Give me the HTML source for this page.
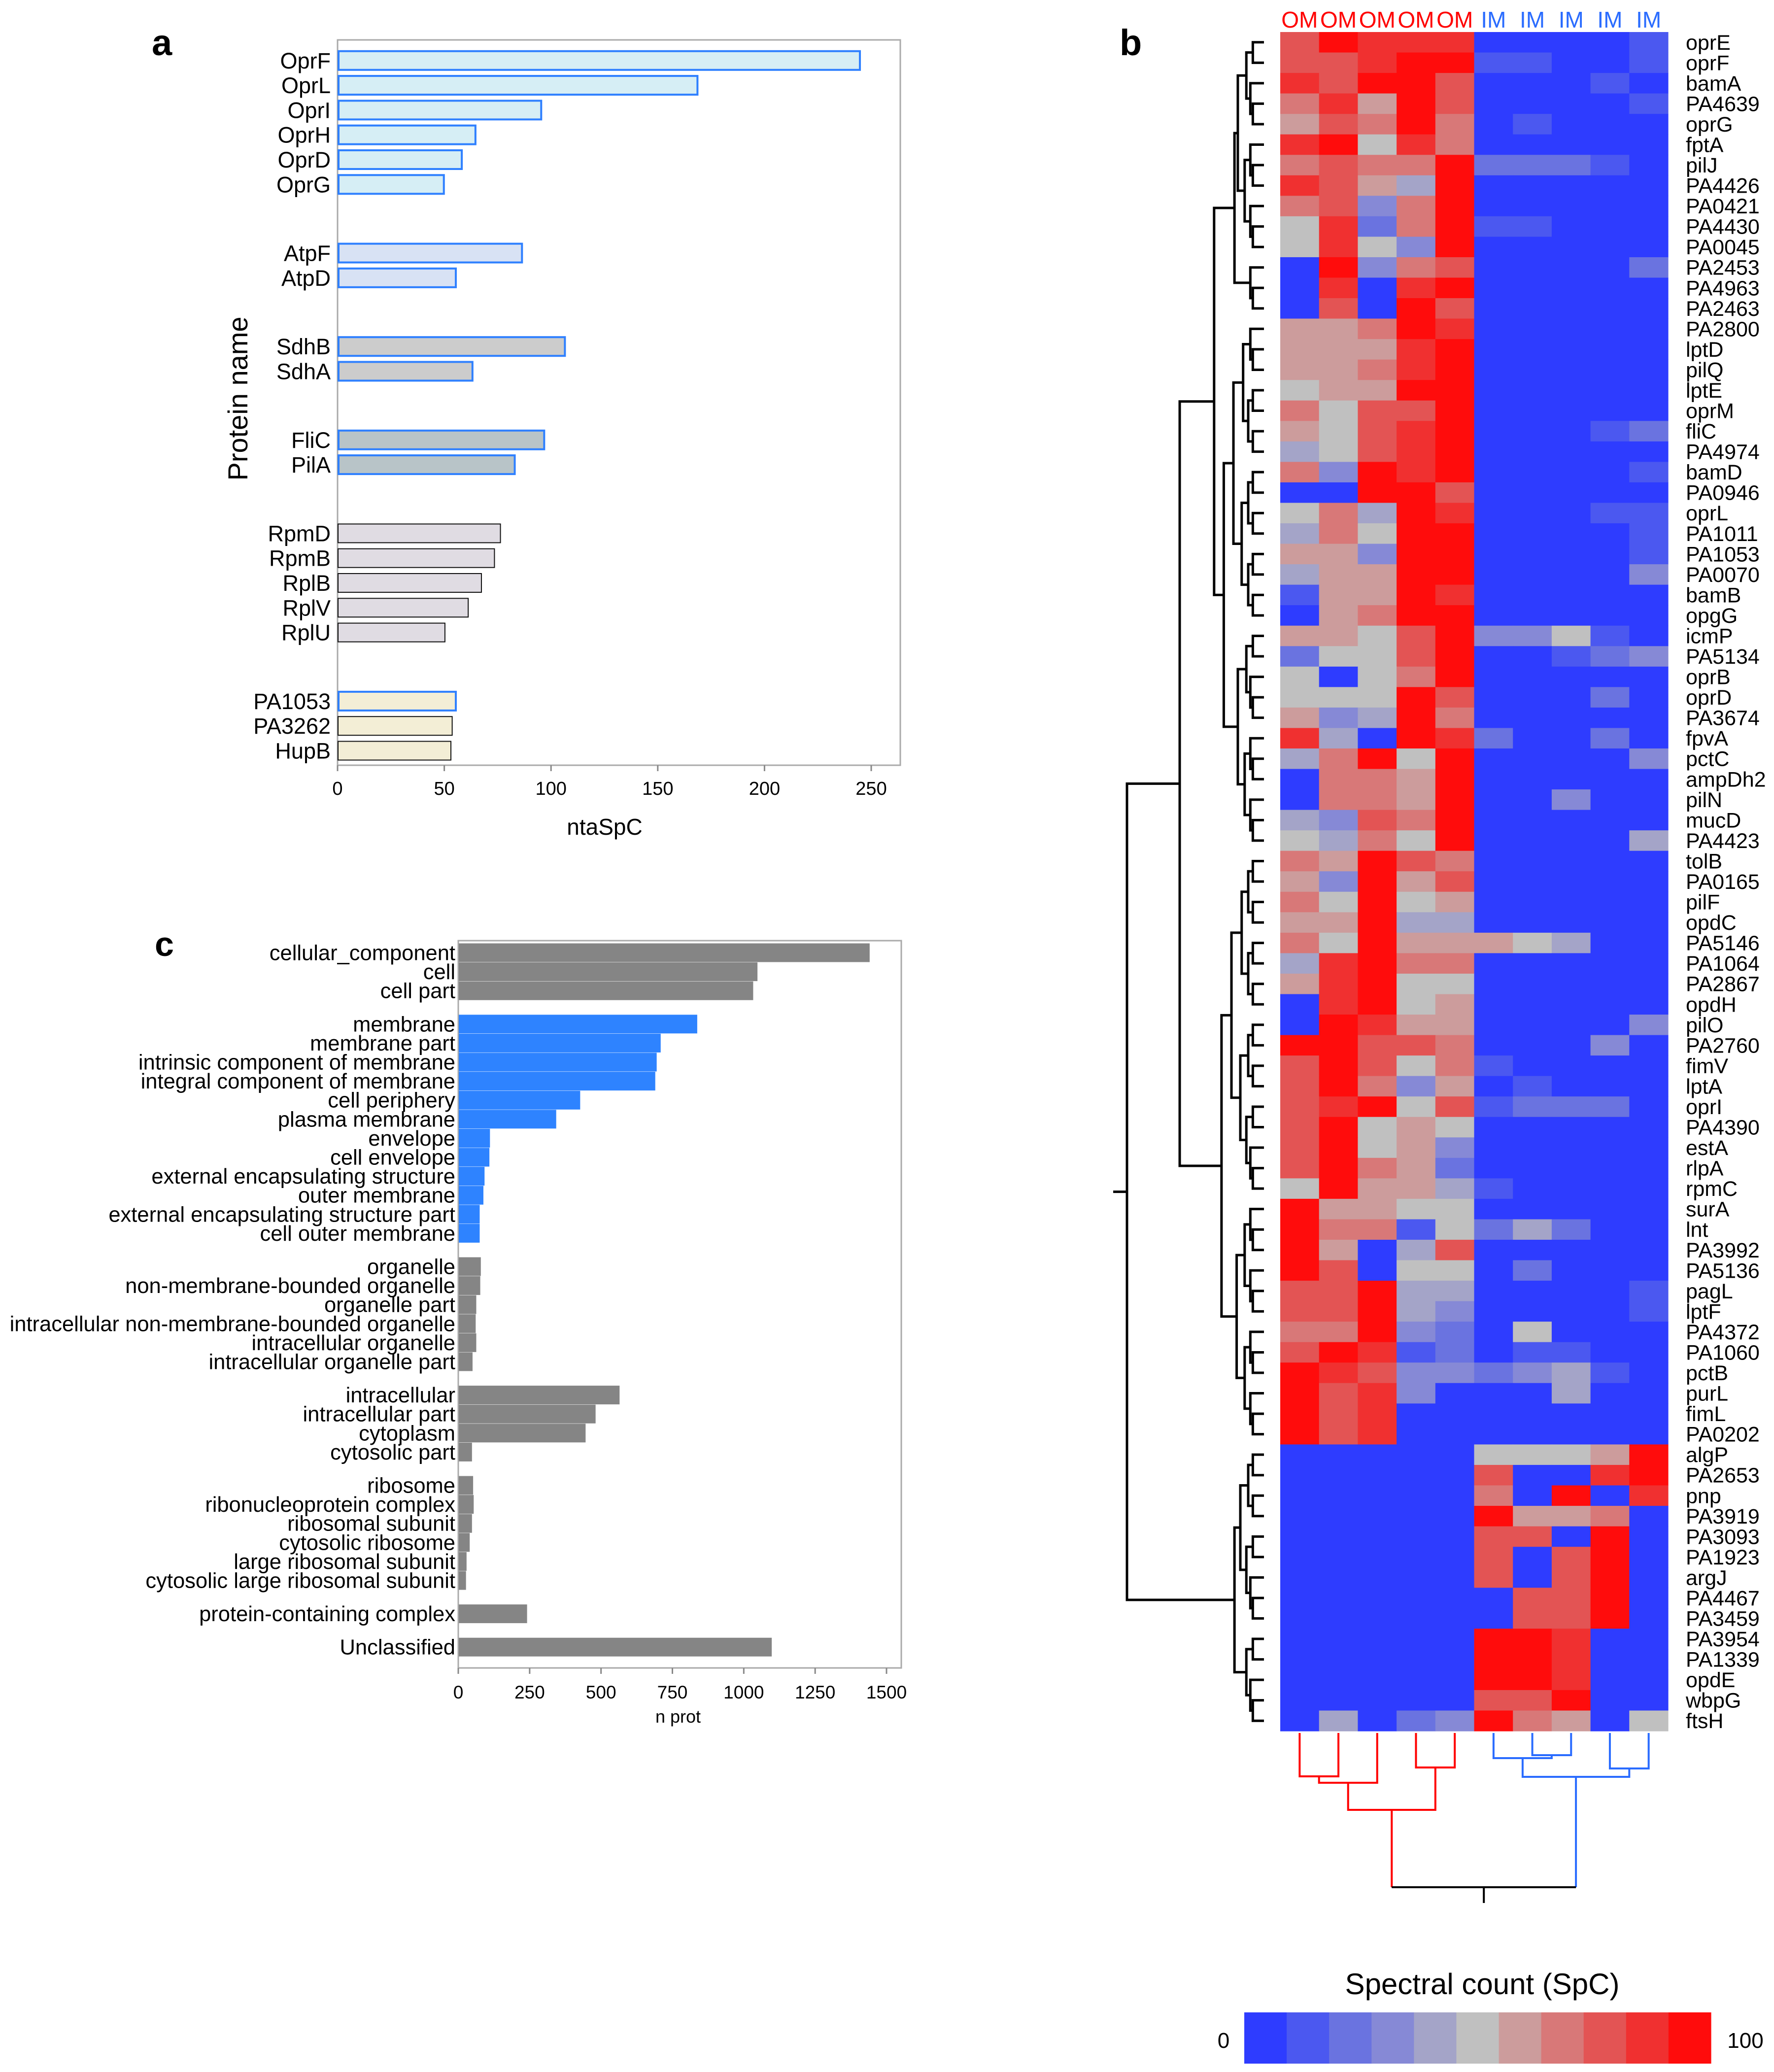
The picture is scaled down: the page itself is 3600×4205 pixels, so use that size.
<!DOCTYPE html>
<html><head><meta charset="utf-8"><style>
html,body{margin:0;padding:0;background:#fff}
svg{display:block}
text{font-family:"Liberation Sans",Arial,sans-serif}
</style></head><body>
<svg id="fig" width="3600" height="4205" viewBox="0 0 3600 4205" xmlns="http://www.w3.org/2000/svg">
<g id="pa"></g>
<g id="pc"></g>
<g id="pb"></g>
</svg>
<script>
// ---------- Panel a data ----------
const aNames = ["OprF","OprL","OprI","OprH","OprD","OprG","AtpF","AtpD","SdhB","SdhA","FliC","PilA","RpmD","RpmB","RplB","RplV","RplU","PA1053","PA3262","HupB"];
const aValues = [244.7,168.6,95.4,64.6,58.2,49.8,86.4,55.4,106.5,63.2,96.8,83,76.3,73.5,67.4,61.2,50.3,55.4,53.7,53.1];
const aGroup = [0,0,0,0,0,0,1,1,2,2,3,3,4,4,4,4,4,5,5,5];
const aBlueEdge = [1,1,1,1,1,1,1,1,1,1,1,1,0,0,0,0,0,1,0,0];
const aTicks = [0,50,100,150,200,250];
// ---------- Panel c data ----------
const cNames = ["cellular_component","cell","cell part","membrane","membrane part","intrinsic component of membrane","integral component of membrane","cell periphery","plasma membrane","envelope","cell envelope","external encapsulating structure","outer membrane","external encapsulating structure part","cell outer membrane","organelle","non-membrane-bounded organelle","organelle part","intracellular non-membrane-bounded organelle","intracellular organelle","intracellular organelle part","intracellular","intracellular part","cytoplasm","cytosolic part","ribosome","ribonucleoprotein complex","ribosomal subunit","cytosolic ribosome","large ribosomal subunit","cytosolic large ribosomal subunit","protein-containing complex","Unclassified"];
const cValues = [1441,1048,1033,837,709,695,690,427,343,111,109,92,88,75,75,79,77,63,61,63,50,565,481,446,48,52,54,48,40,29,27,241,1098];
const cGroup = [0,0,0,1,1,1,1,1,1,1,1,1,1,1,1,2,2,2,2,2,2,3,3,3,3,4,4,4,4,4,4,5,6];
const cTicks = [0,250,500,750,1000,1250,1500];
// ---------- Panel b data (spectral counts 0-100) ----------
const bGenes = ["oprE","oprF","bamA","PA4639","oprG","fptA","pilJ","PA4426","PA0421","PA4430","PA0045","PA2453","PA4963","PA2463","PA2800","lptD","pilQ","lptE","oprM","fliC","PA4974","bamD","PA0946","oprL","PA1011","PA1053","PA0070","bamB","opgG","icmP","PA5134","oprB","oprD","PA3674","fpvA","pctC","ampDh2","pilN","mucD","PA4423","tolB","PA0165","pilF","opdC","PA5146","PA1064","PA2867","opdH","pilO","PA2760","fimV","lptA","oprI","PA4390","estA","rlpA","rpmC","surA","lnt","PA3992","PA5136","pagL","lptF","PA4372","PA1060","pctB","purL","fimL","PA0202","algP","PA2653","pnp","PA3919","PA3093","PA1923","argJ","PA4467","PA3459","PA3954","PA1339","opdE","wbpG","ftsH"];
const bSamples = ["OM","OM","OM","OM","OM","IM","IM","IM","IM","IM"];
const bValues = [
[80,100,90,90,90,0,0,0,0,10],[80,80,90,100,100,10,10,0,0,10],[90,80,100,100,80,0,0,0,10,0],[70,90,60,100,80,0,0,0,0,10],
[60,80,70,100,70,0,10,0,0,0],[90,100,50,90,70,0,0,0,0,0],[70,80,70,70,100,20,20,20,10,0],[90,80,60,40,100,0,0,0,0,0],
[70,80,30,70,100,0,0,0,0,0],[50,90,20,70,100,10,10,0,0,0],[50,90,50,30,100,0,0,0,0,0],[0,100,30,70,80,0,0,0,0,20],
[0,90,0,90,100,0,0,0,0,0],[0,80,0,100,80,0,0,0,0,0],[60,60,70,100,90,0,0,0,0,0],[60,60,60,90,100,0,0,0,0,0],
[60,60,70,90,100,0,0,0,0,0],[50,60,60,100,100,0,0,0,0,0],[70,50,80,80,100,0,0,0,0,0],[60,50,80,90,100,0,0,0,10,20],
[40,50,80,90,100,0,0,0,0,0],[70,30,100,90,100,0,0,0,0,10],[0,0,100,100,80,0,0,0,0,0],[50,70,40,100,90,0,0,0,10,10],
[40,70,50,100,100,0,0,0,0,10],[60,60,30,100,100,0,0,0,0,10],[40,60,60,100,100,0,0,0,0,30],[10,60,60,100,90,0,0,0,0,0],
[0,60,70,100,100,0,0,0,0,0],[60,60,50,80,100,30,30,50,10,0],[20,50,50,80,100,0,0,10,20,30],[50,0,50,70,100,0,0,0,0,0],
[50,50,50,100,80,0,0,0,20,0],[60,30,40,100,70,0,0,0,0,0],[90,40,0,100,90,20,0,0,20,0],[40,70,100,50,100,0,0,0,0,30],
[0,70,70,60,100,0,0,0,0,0],[0,70,70,60,100,0,0,30,0,0],[40,30,80,70,100,0,0,0,0,0],[50,40,70,50,100,0,0,0,0,40],
[70,60,100,80,70,0,0,0,0,0],[60,30,100,60,80,0,0,0,0,0],[70,50,100,50,60,0,0,0,0,0],[60,60,100,40,40,0,0,0,0,0],
[70,50,100,60,60,60,50,40,0,0],[40,90,100,70,70,0,0,0,0,0],[60,90,100,50,50,0,0,0,0,0],[0,90,100,50,60,0,0,0,0,0],
[0,100,90,60,60,0,0,0,0,30],[100,100,80,80,70,0,0,0,30,0],[80,100,80,50,70,10,0,0,0,0],[80,100,70,30,60,0,10,0,0,0],
[80,90,100,50,80,10,20,20,20,0],[80,100,50,60,50,0,0,0,0,0],[80,100,50,60,30,0,0,0,0,0],[80,100,70,60,20,0,0,0,0,0],
[50,100,60,60,40,10,0,0,0,0],[100,60,60,50,50,0,0,0,0,0],[100,70,70,10,50,20,40,20,0,0],[100,60,0,40,80,0,0,0,0,0],
[100,80,0,50,50,0,20,0,0,0],[80,80,100,40,40,0,0,0,0,10],[80,80,100,40,30,0,0,0,0,10],[70,70,100,30,20,0,50,0,0,0],
[80,100,90,10,20,0,10,10,0,0],[100,90,80,30,30,20,30,40,10,0],[100,80,90,30,0,0,0,40,0,0],[100,80,90,0,0,0,0,0,0,0],
[100,80,90,0,0,0,0,0,0,0],[0,0,0,0,0,50,50,50,60,100],[0,0,0,0,0,80,0,0,90,100],[0,0,0,0,0,70,0,100,0,90],
[0,0,0,0,0,100,60,60,70,0],[0,0,0,0,0,80,80,0,100,0],[0,0,0,0,0,80,0,80,100,0],[0,0,0,0,0,80,0,80,100,0],
[0,0,0,0,0,0,80,80,100,0],[0,0,0,0,0,0,80,80,100,0],[0,0,0,0,0,100,100,90,0,0],[0,0,0,0,0,100,100,90,0,0],
[0,0,0,0,0,100,100,90,0,0],[0,0,0,0,0,80,80,100,0,0],[0,40,0,20,30,100,70,60,0,50]];
const palette = ["#2e3cff","#4b58f0","#6a73e0","#8689d6","#a4a4c8","#c0c0c0","#cc9c9c","#d87878","#e35454","#f03030","#ff0c0c"];

const NS="http://www.w3.org/2000/svg";
function mk(parent,tag,attrs,txt){const e=document.createElementNS(NS,tag);for(const k in attrs)e.setAttribute(k,attrs[k]);if(txt!==undefined)e.textContent=txt;parent.appendChild(e);return e;}

// ===== Panel a =====
(function(){
const g=document.getElementById('pa');
const L=685,R=1827,T=81,B=1553;
const x=v=>L+(v-0)*(1768-685)/250;
const step=50.3,gap=89,y0=122.8;
const yc=i=>y0+i*step+aGroup[i]*gap;
const fills=["#d6eef5","#d8e2f4","#cccccc","#b8c4c8","#e0dce3","#f3eed6"];
let fr=mk(g,'rect',{x:L,y:T,width:R-L,height:B-T,fill:'none',stroke:'#aaaaaa','stroke-width':3});


aNames.forEach((n,i)=>{
  const bw=aBlueEdge[i]?4:2;
  const r=mk(g,'rect',{x:L+bw/2,y:yc(i)-19,width:x(aValues[i])-L-bw/2,height:38,fill:fills[aGroup[i]],stroke:aBlueEdge[i]?'#2f80ff':'#111','stroke-width':bw});
  
  
  const t=mk(g,'text',{x:L-14,y:yc(i)+16,'text-anchor':'end','font-size':45},n);
  
  
});
aTicks.forEach(v=>{
  const l=mk(g,'line',{x1:x(v),x2:x(v),y1:B,y2:B+12,stroke:'#888','stroke-width':3});
  
  
  const t=mk(g,'text',{x:x(v),y:B+60,'text-anchor':'middle','font-size':38},String(v));
  
  
});
let t=mk(g,'text',{x:1227,y:1694,'text-anchor':'middle','font-size':46,'font-family':'DejaVu Sans'},'ntaSpC');


t=mk(g,'text',{x:0,y:0,transform:'translate(502,809) rotate(-90)','text-anchor':'middle','font-size':56,'font-family':'DejaVu Sans'},'Protein name');


t=mk(g,'text',{x:308,y:112,'font-size':74,'font-weight':'bold','font-family':'DejaVu Sans'},'a');


})();

// ===== Panel c =====
(function(){
const g=document.getElementById('pc');
const L=930,R=1829,T=1909,B=3385;
const x=v=>L+v*(1799-930)/1500;
const step=38.6,gap=29,y0=1933.5;
const yc=i=>y0+i*step+cGroup[i]*gap;
let fr=mk(g,'rect',{x:L,y:T,width:R-L,height:B-T,fill:'none',stroke:'#aaaaaa','stroke-width':3});


cNames.forEach((n,i)=>{
  const r=mk(g,'rect',{x:L+1,y:yc(i)-19,width:x(cValues[i])-L-1,height:38,fill:cGroup[i]===1?'#2e83ff':'#858585'});
  
  
  const t=mk(g,'text',{x:L-6,y:yc(i)+15,'text-anchor':'end','font-size':43.5},n);
  
  
});
cTicks.forEach(v=>{
  const l=mk(g,'line',{x1:x(v),x2:x(v),y1:B,y2:B+12,stroke:'#888','stroke-width':3});
  
  
  const t=mk(g,'text',{x:x(v),y:B+62,'text-anchor':'middle','font-size':37},String(v));
  
  
});
let t=mk(g,'text',{x:1376,y:3496,'text-anchor':'middle','font-size':36},'n prot');


t=mk(g,'text',{x:314,y:1940,'font-size':70,'font-weight':'bold','font-family':'DejaVu Sans'},'c');


})();

// ===== Panel b =====
(function(){
const g=document.getElementById('pb');
const L=2598,R=3385,T=65,B=3513;
const nR=bGenes.length,nC=bSamples.length;
const cw=(R-L)/nC,rh=(B-T)/nR;
const colX=j=>L+j*cw, rowY=i=>T+i*rh;
const colorOf=v=>palette[Math.max(0,Math.min(10,Math.floor(v/(100/11))))];
bValues.forEach((row,i)=>row.forEach((v,j)=>{
  const r=mk(g,'rect',{x:colX(j),y:rowY(i),width:cw+0.6,height:rh+0.6,fill:colorOf(v)});
  
  
}));
bGenes.forEach((n,i)=>{
  const t=mk(g,'text',{x:3421,y:rowY(i)+rh/2+15,'font-size':43},n);
  
  
});
bSamples.forEach((s,j)=>{
  const t=mk(g,'text',{x:colX(j)+cw/2,y:56,'text-anchor':'middle','font-size':46,fill:s==='OM'?'#ff0000':'#2a6cff'},s);
  
  
});
let t=mk(g,'text',{x:2272,y:112,'font-size':74,'font-weight':'bold','font-family':'DejaVu Sans'},'b');


// row dendrogram
const dg=mk(g,'g',{stroke:'#000','stroke-width':5,fill:'none'});


const leafX=2565;
function nodeX(n){return n<=1?leafX:leafX-16*Math.sqrt(n);}
function build(lo,hi,splits,xOverride){
  const n=hi-lo+1;
  if(n===1) return {x:leafX,y:rowY(lo)+rh/2};
  let mid;
  if(splits&&splits[lo+'-'+hi]!==undefined) mid=splits[lo+'-'+hi]; else mid=lo+Math.floor(n/2)-1;
  const a=build(lo,mid,splits),b=build(mid+1,hi,splits);
  const xx=xOverride!==undefined?xOverride:nodeX(n);
  mk(dg,'path',{d:`M${a.x},${a.y}H${xx}V${b.y}H${b.x}`});
  return {x:xx,y:(a.y+b.y)/2};
}
const splits={"0-39":13,"40-68":56,"69-82":77,"0-13":10,"14-39":28};
const A1=build(0,39,splits), A2=build(40,68,splits);
const ax=2394;
mk(dg,'path',{d:`M${A1.x},${A1.y}H${ax}V${A2.y}H${A2.x}`});
const Bn=build(69,82,splits);
const ay=(A1.y+A2.y)/2;
mk(dg,'path',{d:`M${ax},${ay}H2287V${Bn.y}H${Bn.x}`});
mk(dg,'path',{d:`M2287,${(ay+Bn.y)/2}H2259`});
// column dendrogram
const cx=j=>colX(j)+cw/2;
const y0=3517;
const red=mk(g,'g',{stroke:'#ff0000','stroke-width':4,fill:'none'});


const c01=(cx(0)+cx(1))/2, c012=(c01+cx(2))/2, c34=(cx(3)+cx(4))/2, cOM=(c012+c34)/2;
mk(red,'path',{d:`M${cx(0)},${y0}V3605H${cx(1)}V${y0}`});
mk(red,'path',{d:`M${c01},3605V3618H${cx(2)}V${y0}`});
mk(red,'path',{d:`M${cx(3)},${y0}V3587H${cx(4)}V${y0}`});
mk(red,'path',{d:`M${c012},3618V3673H${c34}V3587`});
mk(red,'path',{d:`M${cOM},3673V3830`});
const blue=mk(g,'g',{stroke:'#2a6cff','stroke-width':4,fill:'none'});


const c67=(cx(6)+cx(7))/2, c567=(cx(5)+c67)/2, c89=(cx(8)+cx(9))/2, cIM=(c567+c89)/2;
mk(blue,'path',{d:`M${cx(6)},${y0}V3562H${cx(7)}V${y0}`});
mk(blue,'path',{d:`M${cx(5)},${y0}V3568H${c67}V3562`});
mk(blue,'path',{d:`M${cx(8)},${y0}V3589H${cx(9)}V${y0}`});
mk(blue,'path',{d:`M${c567},3568V3606H${c89}V3589`});
mk(blue,'path',{d:`M${cIM},3606V3830`});
const rt=mk(g,'path',{d:`M${cOM},3830H${cIM}M${(cOM+cIM)/2},3830V3862`,stroke:'#000','stroke-width':4,fill:'none'});


// color bar
const cb=mk(g,'g',{});


const cbL=2525,cbR=3472,sw=(cbR-cbL)/palette.length;
palette.forEach((c,k)=>{
  const r=mk(cb,'rect',{x:cbL+k*sw,y:4084,width:sw+0.6,height:104,fill:c});
  
  
});
t=mk(cb,'text',{x:2483,y:4156,'text-anchor':'middle','font-size':44,'font-family':'DejaVu Sans Condensed, DejaVu Sans'},'0');


t=mk(cb,'text',{x:3542,y:4156,'text-anchor':'middle','font-size':44,'font-family':'DejaVu Sans Condensed, DejaVu Sans'},'100');


t=mk(cb,'text',{x:3008,y:4047,'text-anchor':'middle','font-size':60,'font-family':'DejaVu Sans Condensed, DejaVu Sans'},'Spectral count (SpC)');


})();
</script>
</body></html>
